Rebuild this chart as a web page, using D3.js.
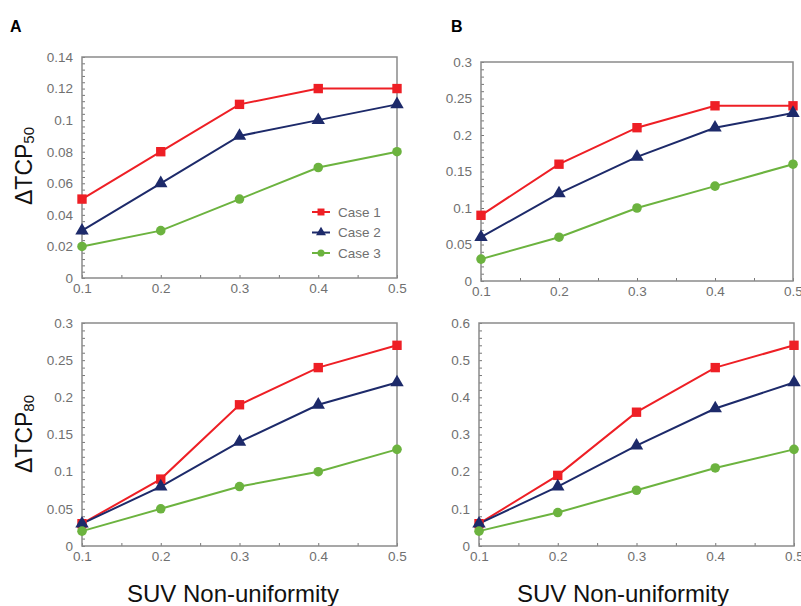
<!DOCTYPE html>
<html>
<head>
<meta charset="utf-8">
<script src="https://cdn.jsdelivr.net/npm/d3@7"></script>
<style>
  body { margin: 0; background: #fff; }
  text { font-family: "Liberation Sans", Arial, sans-serif; }
</style>
</head>
<body>
<div id="chart"></div>
<script>
// x values (SUV non-uniformity)
const xVals = [0.1, 0.2, 0.3, 0.4, 0.5]
const caseNames = ["Case 1", "Case 2", "Case 3"]

// panel A, dTCP50
const a50_case1 = [0.05, 0.08, 0.11, 0.12, 0.12]
const a50_case2 = [0.03, 0.06, 0.09, 0.10, 0.11]
const a50_case3 = [0.02, 0.03, 0.05, 0.07, 0.08]
// panel B, dTCP50
const b50_case1 = [0.09, 0.16, 0.21, 0.24, 0.24]
const b50_case2 = [0.06, 0.12, 0.17, 0.21, 0.23]
const b50_case3 = [0.03, 0.06, 0.10, 0.13, 0.16]
// panel A, dTCP80
const a80_case1 = [0.03, 0.09, 0.19, 0.24, 0.27]
const a80_case2 = [0.03, 0.08, 0.14, 0.19, 0.22]
const a80_case3 = [0.02, 0.05, 0.08, 0.10, 0.13]
// panel B, dTCP80
const b80_case1 = [0.06, 0.19, 0.36, 0.48, 0.54]
const b80_case2 = [0.06, 0.16, 0.27, 0.37, 0.44]
const b80_case3 = [0.04, 0.09, 0.15, 0.21, 0.26]

const xTicks = [0.1, 0.2, 0.3, 0.4, 0.5]
const yTicksA50 = [0, 0.02, 0.04, 0.06, 0.08, 0.1, 0.12, 0.14]
const yTicksB50 = [0, 0.05, 0.1, 0.15, 0.2, 0.25, 0.3]
const yTicksA80 = [0, 0.05, 0.1, 0.15, 0.2, 0.25, 0.3]
const yTicksB80 = [0, 0.1, 0.2, 0.3, 0.4, 0.5, 0.6]

const colors = ["#ee1f25", "#1d2a6a", "#6cb33f"]
const symbols = [d3.symbolSquare, d3.symbolTriangle, d3.symbolCircle]
const symSize = [88, 78, 72]

const W = 801, H = 606
const svg = d3.select("#chart").append("svg")
    .attr("width", W).attr("height", H)

const panels = [
    { x: 82, y: 57, w: 315, h: 221, series: [a50_case1, a50_case2, a50_case3], yTicks: yTicksA50, legend: true },
    { x: 481, y: 62, w: 312, h: 219, series: [b50_case1, b50_case2, b50_case3], yTicks: yTicksB50 },
    { x: 82, y: 323, w: 315, h: 223, series: [a80_case1, a80_case2, a80_case3], yTicks: yTicksA80 },
    { x: 479, y: 323, w: 315, h: 223, series: [b80_case1, b80_case2, b80_case3], yTicks: yTicksB80 }
]

const fmt = d => String(+d.toFixed(3))

panels.forEach(p => {
    const g = svg.append("g").attr("transform", "translate(" + p.x + "," + p.y + ")")
    const ymax = p.yTicks[p.yTicks.length - 1]
    const x = d3.scaleLinear().domain([0.1, 0.5]).range([0, p.w])
    const y = d3.scaleLinear().domain([0, ymax]).range([p.h, 0])

    // minor ticks (5 per major on y, 2 per major on x)
    const yStep = p.yTicks[1] - p.yTicks[0]
    const yMinor = d3.range(0, ymax + 1e-9, yStep / 5)
    const xMinor = d3.range(0.1, 0.5 + 1e-9, 0.05)

    g.append("g")
        .call(d3.axisLeft(y).tickValues(yMinor).tickSize(-3).tickFormat(""))
        .call(a => a.select(".domain").remove())
        .selectAll("line").attr("stroke", "#777")
    g.append("g")
        .attr("transform", "translate(0," + p.h + ")")
        .call(d3.axisBottom(x).tickValues(xMinor).tickSize(-3).tickFormat(""))
        .call(a => a.select(".domain").remove())
        .selectAll("line").attr("stroke", "#777")

    // tick labels
    const ya = g.append("g")
        .call(d3.axisLeft(y).tickValues(p.yTicks).tickSize(0).tickPadding(9).tickFormat(fmt))
    ya.select(".domain").remove()
    ya.selectAll("text").attr("font-size", 13.5).attr("fill", "#707070")
        .style("font-family", "Liberation Sans, Arial, sans-serif")

    const xa = g.append("g")
        .attr("transform", "translate(0," + p.h + ")")
        .call(d3.axisBottom(x).tickValues(xTicks).tickSize(0).tickPadding(5).tickFormat(fmt))
    xa.select(".domain").remove()
    xa.selectAll("text").attr("font-size", 13.5).attr("fill", "#707070")
        .style("font-family", "Liberation Sans, Arial, sans-serif")

    // frame
    g.append("rect")
        .attr("width", p.w).attr("height", p.h)
        .attr("fill", "none").attr("stroke", "#8a8a8a").attr("stroke-width", 1.5)

    const line = d3.line().x((d, i) => x(xVals[i])).y(d => y(d))

    p.series.forEach((s, k) => {
        g.append("path")
            .attr("fill", "none")
            .attr("stroke", colors[k])
            .attr("stroke-width", 2)
            .attr("d", line(s))
    })
    p.series.forEach((s, k) => {
        g.selectAll(null)
            .data(s)
            .join("path")
            .attr("transform", (d, i) => "translate(" + x(xVals[i]) + "," + y(d) + ")")
            .attr("d", d3.symbol(symbols[k], symSize[k]))
            .attr("fill", colors[k])
    })

    if (p.legend) {
        caseNames.forEach((name, k) => {
            const ly = 155 + 20.5 * k
            g.append("line")
                .attr("x1", 230).attr("x2", 248)
                .attr("y1", ly).attr("y2", ly)
                .attr("stroke", colors[k]).attr("stroke-width", 2)
            g.append("path")
                .attr("transform", "translate(239," + ly + ")")
                .attr("d", d3.symbol(symbols[k], symSize[k] * 0.55))
                .attr("fill", colors[k])
            g.append("text")
                .attr("x", 256).attr("y", ly + 4.5)
                .attr("font-size", 13.5).attr("fill", "#707070")
                .text(name)
        })
    }
})

// panel letters
svg.append("text").attr("x", 10).attr("y", 32).attr("font-size", 16)
    .attr("font-weight", "bold").text("A")
svg.append("text").attr("x", 451).attr("y", 32).attr("font-size", 16)
    .attr("font-weight", "bold").text("B")

// y titles
const ytitles = [{ cx: 32, cy: 166, sub: "50" }, { cx: 32, cy: 434, sub: "80" }]
ytitles.forEach(t => {
    const tx = svg.append("text")
        .attr("transform", "translate(" + t.cx + "," + t.cy + ") rotate(-90)")
        .attr("text-anchor", "middle")
        .attr("font-size", 23).attr("fill", "#111")
    tx.append("tspan").text("ΔTCP")
    tx.append("tspan").attr("font-size", 15).attr("dy", 2).text(t.sub)
})

// x titles
;[233, 623].forEach(cx => {
    svg.append("text")
        .attr("x", cx).attr("y", 602)
        .attr("text-anchor", "middle")
        .attr("font-size", 24).attr("fill", "#111")
        .text("SUV Non-uniformity")
})
</script>
</body>
</html>
